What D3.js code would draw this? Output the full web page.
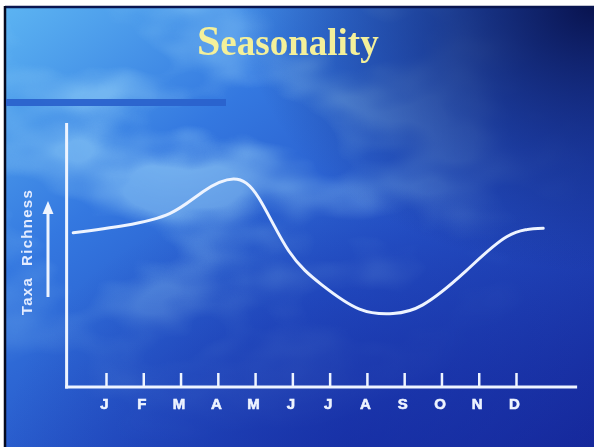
<!DOCTYPE html>
<html><head><meta charset="utf-8">
<script src="https://cdn.jsdelivr.net/npm/d3@7"></script>
<style>body{margin:0;background:#fff;}svg{display:block}</style>
</head><body><svg id="c" width="594" height="447"></svg>
<script>
// ---- data ----
const titleFirst = "S";
const titleRest = "easonality";
const yLabel = "Taxa  Richness";
const months = ["J","F","M","A","M","J","J","A","S","O","N","D"];
const monthIndex = [0,1,2,3,4,5,6,7,8,9,10,11];
// curve: position in month units (0 = J tick) and relative taxa richness (0-100 of axis height)
const curveMonth    = [-0.88, 0.5, 1.72, 2.6, 3.42, 4.1, 4.9, 5.8, 6.8, 7.7, 8.5, 9.6, 10.75, 11.73];
const curveRichness = [58.4, 61.2, 65.8, 74.0, 78.8, 71.6, 51.6, 38.6, 29.5, 27.8, 31.1, 43.2, 56.9, 60.1];
const axisMonthExtent = [-1.07, 12.64];
const richnessDomain = [0, 100];

const svg = d3.select("#c");
const W = 594, H = 447;
const defs = svg.append("defs");

// background gradients
const lg = defs.append("linearGradient").attr("id","bg").attr("x1",0).attr("y1",0).attr("x2",1).attr("y2",1);
[[0,"#5cb4f2"],[0.3,"#3478e0"],[0.6,"#2450c4"],[1,"#16289a"]].forEach(s=>lg.append("stop").attr("offset",s[0]).attr("stop-color",s[1]));
const rg = defs.append("radialGradient").attr("id","dark").attr("cx",1).attr("cy",0).attr("r",0.6);
rg.append("stop").attr("offset",0).attr("stop-color","#070f48").attr("stop-opacity",0.95);
rg.append("stop").attr("offset",0.6).attr("stop-color","#0d1a66").attr("stop-opacity",0.4);
rg.append("stop").attr("offset",1).attr("stop-color","#0d1a66").attr("stop-opacity",0);
const rg2 = defs.append("radialGradient").attr("id","darkb").attr("cx",0.6).attr("cy",1).attr("r",0.6);
rg2.append("stop").attr("offset",0).attr("stop-color","#1428a0").attr("stop-opacity",0.6);
rg2.append("stop").attr("offset",1).attr("stop-color","#1428a0").attr("stop-opacity",0);
const cm = defs.append("radialGradient").attr("id","cloudMask").attr("cx",0.3).attr("cy",0.3).attr("r",0.7);
cm.append("stop").attr("offset",0).attr("stop-color","#fff");
cm.append("stop").attr("offset",1).attr("stop-color","#000");
defs.append("mask").attr("id","cmask").append("rect").attr("width",W).attr("height",H).attr("fill","url(#cloudMask)");
const f = defs.append("filter").attr("id","clouds").attr("x",0).attr("y",0).attr("width","100%").attr("height","100%");
f.append("feTurbulence").attr("type","fractalNoise").attr("baseFrequency","0.008 0.014").attr("numOctaves",3).attr("seed",7).attr("result","n");
f.append("feColorMatrix").attr("in","n").attr("type","matrix")
  .attr("values","0 0 0 0 0.45  0 0 0 0 0.82  0 0 0 0 1  0 0 -3.2 0 1.9");
const glow = defs.append("filter").attr("id","soft");
glow.append("feGaussianBlur").attr("stdDeviation",0.45);

// slide
const slide = svg.append("g");
slide.append("rect").attr("x",5).attr("y",6).attr("width",W-5).attr("height",H-6).attr("fill","url(#bg)");
slide.append("rect").attr("x",5).attr("y",6).attr("width",W-5).attr("height",H-6).attr("filter","url(#clouds)").attr("mask","url(#cmask)").attr("opacity",0.55);
slide.append("rect").attr("x",5).attr("y",6).attr("width",W-5).attr("height",H-6).attr("fill","url(#darkb)");
slide.append("rect").attr("x",5).attr("y",6).attr("width",W-5).attr("height",H-6).attr("fill","url(#dark)");
svg.append("line").attr("x1",5).attr("x2",W).attr("y1",7).attr("y2",7).attr("stroke","#0a1650").attr("stroke-width",2.5);
svg.append("line").attr("x1",5).attr("x2",5).attr("y1",6).attr("y2",H).attr("stroke","#050a20").attr("stroke-width",2.5);

// blue bar
svg.append("rect").attr("x",6).attr("y",99).attr("width",220).attr("height",7).attr("fill","#2a62cc").attr("opacity",0.95);

// title
const t = svg.append("text").attr("x",197).attr("y",55)
  .attr("font-family","'Liberation Serif','Times New Roman',serif").attr("font-weight","bold")
  .attr("fill","#f4f09a").attr("filter","url(#soft)");
t.append("tspan").attr("font-size",42).text(titleFirst);
t.append("tspan").attr("font-size",37).text(titleRest);

// scales
const x = d3.scaleLinear().domain([0,11]).range([106,516]);
const y = d3.scaleLinear().domain(richnessDomain).range([387,123]);
const ink = "#eef4ff";

const g = svg.append("g").attr("filter","url(#soft)");
// axes lines
g.append("line").attr("x1",x(axisMonthExtent[0])+0.5).attr("x2",x(axisMonthExtent[0])+0.5)
  .attr("y1",y(richnessDomain[1])).attr("y2",y(richnessDomain[0])+1.5).attr("stroke",ink).attr("stroke-width",3);
g.append("line").attr("x1",x(axisMonthExtent[0])-1).attr("x2",x(axisMonthExtent[1]))
  .attr("y1",y(0)).attr("y2",y(0)).attr("stroke",ink).attr("stroke-width",3);

const xAxis = d3.axisBottom(x).tickValues(monthIndex).tickSize(-14).tickPadding(11).tickFormat(d=>months[d]);
const ax = g.append("g").attr("transform",`translate(0,${y(0)})`).call(xAxis);
ax.select(".domain").remove();
ax.selectAll(".tick line").attr("stroke",ink).attr("stroke-width",2.5);
ax.selectAll(".tick text").attr("fill",ink).attr("font-size",15).attr("font-weight","bold")
  .attr("stroke",ink).attr("stroke-width",0.6)
  .attr("font-family","'Liberation Sans',Arial,sans-serif").attr("dx",-2);

// curve
const pts = curveMonth.map((m,i)=>[m,curveRichness[i]]);
g.append("path").datum(pts)
  .attr("d", d3.line().x(d=>x(d[0])).y(d=>y(d[1])).curve(d3.curveNatural))
  .attr("fill","none").attr("stroke",ink).attr("stroke-width",3).attr("stroke-linecap","round");

// y label + arrow
g.append("text").attr("transform","translate(32,252) rotate(-90)").attr("text-anchor","middle")
  .attr("font-family","'Liberation Sans',Arial,sans-serif").attr("font-weight","bold").attr("font-size",15)
  .attr("letter-spacing",1.3).attr("fill","#e4ecff").attr("xml:space","preserve").style("white-space","pre").text(yLabel);
g.append("line").attr("x1",48).attr("x2",48).attr("y1",297).attr("y2",212).attr("stroke",ink).attr("stroke-width",3);
g.append("path").attr("d","M48,201 L42.5,214 L53.5,214 Z").attr("fill",ink);
</script></body></html>
